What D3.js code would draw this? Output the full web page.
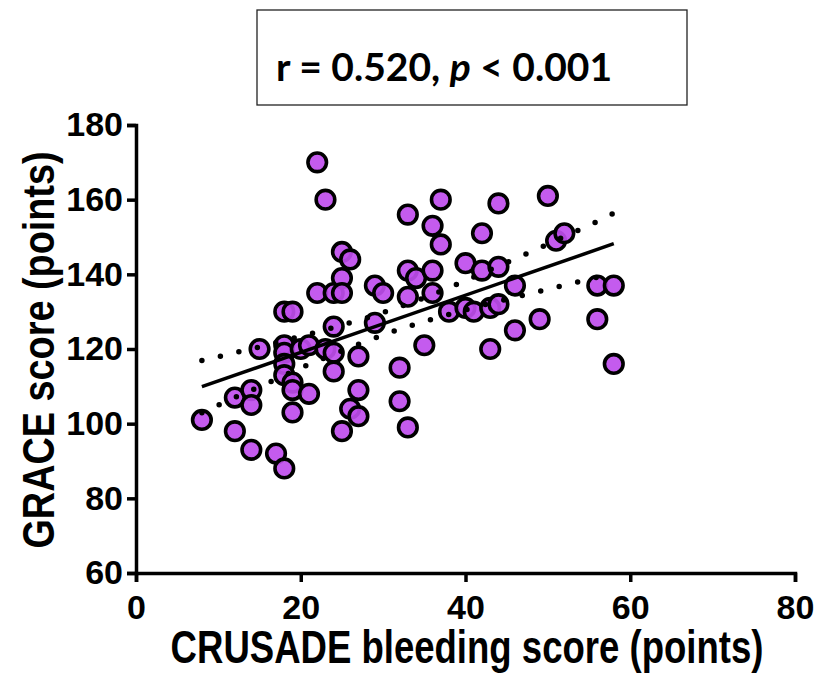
<!DOCTYPE html>
<html>
<head>
<meta charset="utf-8">
<script src="https://cdn.jsdelivr.net/npm/d3@7"></script>
<style>
  body { margin: 0; background: #fff; }
  svg { display: block; }
  .tick text { font-family: "Liberation Sans", Arial, sans-serif; font-weight: bold; }
</style>
</head>
<body>
<div class="chart"></div>
<script>
// CRUSADE score (x) and GRACE score (y) for each patient
var crusade = [8,12,12,14,14,14,15,17,18,
  18,19,
  18,18,18,18,19,19,19,
  20,21,21,
  22,23,22,
  23,24,24,24,24,
  25,26,25,25,25,
  26,27,27,27,
  29,30,29,
  32,32,33,
  33,33,34,33,
  35,36,37,37,36,36,
  38,40,40,41,42,42,
  43,43,44,44,44,
  46,46,49,50,51,52,
  56,58,56,58];
var grace = [101,98,107,109,105,93,120,92,88,
  130,130,
  121,119,116,113,111,109,103,
  120,121,108,
  170,160,135,
  120,119,126,114,135,
  146,144,139,135,98,
  104,102,118,109,
  137,135,127,
  115,106,99,
  156,141,139,134,
  121,153,160,148,141,135,
  130,143,131,130,151,141,
  131,120,159,142,132,
  137,125,128,161,149,151,
  137,137,128,116];

// regression line + 95% band
var fitX = [8, 58];
var fitY = [109.9, 148.2];
var bandX = [8, 12, 16, 20, 24, 28, 32, 36, 40, 44, 48, 52, 56, 58];
var bandUp = [116.9, 119.0, 121.1, 123.4, 125.8, 128.3, 131.3, 134.6, 138.3, 142.2, 146.1, 150.1, 154.2, 156.4];
var bandLo = [102.9, 107.0, 110.9, 114.9, 118.6, 122.1, 125.3, 128.0, 130.5, 132.8, 134.9, 137.1, 139.2, 140.1];

var xTicks = [0, 20, 40, 60, 80];
var yTicks = [60, 80, 100, 120, 140, 160, 180];

var width = 816, height = 673;

var svg = d3.select(".chart").append("svg")
  .attr("width", width)
  .attr("height", height);

var x = d3.scaleLinear().domain([0, 80]).range([136, 795]);
var y = d3.scaleLinear().domain([60, 180]).range([573, 125]);

// stats box
svg.append("rect")
  .attr("x", 257).attr("y", 10)
  .attr("width", 430).attr("height", 95)
  .attr("fill", "#fff")
  .attr("stroke", "#222")
  .attr("stroke-width", 1.3);

var stat = svg.append("text")
  .attr("x", 276).attr("y", 81)
  .attr("font-family", "Lato, 'Open Sans', sans-serif")
  .attr("font-weight", "bold")
  .attr("font-size", 39)
  .attr("fill", "#000");
stat.append("tspan").text("r = 0.520, ");
stat.append("tspan").attr("font-style", "italic").text("p");
stat.append("tspan").text(" < 0.001");

// axes
var xAxis = svg.append("g")
  .attr("transform", "translate(0," + y(60) + ")")
  .call(d3.axisBottom(x).tickValues(xTicks).tickSize(9).tickPadding(6).tickFormat(d3.format("d")));
var yAxis = svg.append("g")
  .attr("transform", "translate(" + x(0) + ",0)")
  .call(d3.axisLeft(y).tickValues(yTicks).tickSize(9).tickPadding(4).tickFormat(d3.format("d")));

[xAxis, yAxis].forEach(function(g){
  g.select(".domain").attr("stroke", "#000").attr("stroke-width", 3.5);
  g.selectAll(".tick line").attr("stroke", "#000").attr("stroke-width", 3.5);
  g.selectAll(".tick text").attr("fill", "#000").attr("font-size", 34);
});
xAxis.selectAll(".tick text").attr("dy", "0.9em");

// axis titles
svg.append("text")
  .attr("transform", "translate(467,663) scale(0.84,1.05)")
  .attr("text-anchor", "middle")
  .attr("font-family", "'Liberation Sans', Arial, sans-serif")
  .attr("font-weight", "bold")
  .attr("font-size", 43.5)
  .text("CRUSADE bleeding score (points)");

svg.append("text")
  .attr("transform", "translate(54,350) rotate(-90) scale(0.86,1.0)")
  .attr("text-anchor", "middle")
  .attr("font-family", "'Liberation Sans', Arial, sans-serif")
  .attr("font-weight", "bold")
  .attr("font-size", 44)
  .text("GRACE score (points)");

// points
var pts = crusade.map(function(c, i){ return [c, grace[i]]; });
svg.append("g").selectAll("circle")
  .data(pts)
  .enter().append("circle")
  .attr("cx", function(d){ return x(d[0]); })
  .attr("cy", function(d){ return y(d[1]); })
  .attr("r", 9.3)
  .attr("fill", "#bf4ded")
  .attr("fill-opacity", 0.92)
  .attr("stroke", "#000")
  .attr("stroke-width", 3.6);

// confidence band (dotted) and fit line
var line = d3.line()
  .x(function(d){ return x(d[0]); })
  .y(function(d){ return y(d[1]); })
  .curve(d3.curveMonotoneX);

[bandUp, bandLo].forEach(function(b){
  svg.append("path")
    .datum(bandX.map(function(v, i){ return [v, b[i]]; }))
    .attr("d", line)
    .attr("fill", "none")
    .attr("stroke", "#000")
    .attr("stroke-width", 5.5)
    .attr("stroke-linecap", "round")
    .attr("stroke-dasharray", "0 19");
});

svg.append("path")
  .datum(fitX.map(function(v, i){ return [v, fitY[i]]; }))
  .attr("d", line)
  .attr("fill", "none")
  .attr("stroke", "#000")
  .attr("stroke-width", 3.5);
</script>
</body>
</html>
